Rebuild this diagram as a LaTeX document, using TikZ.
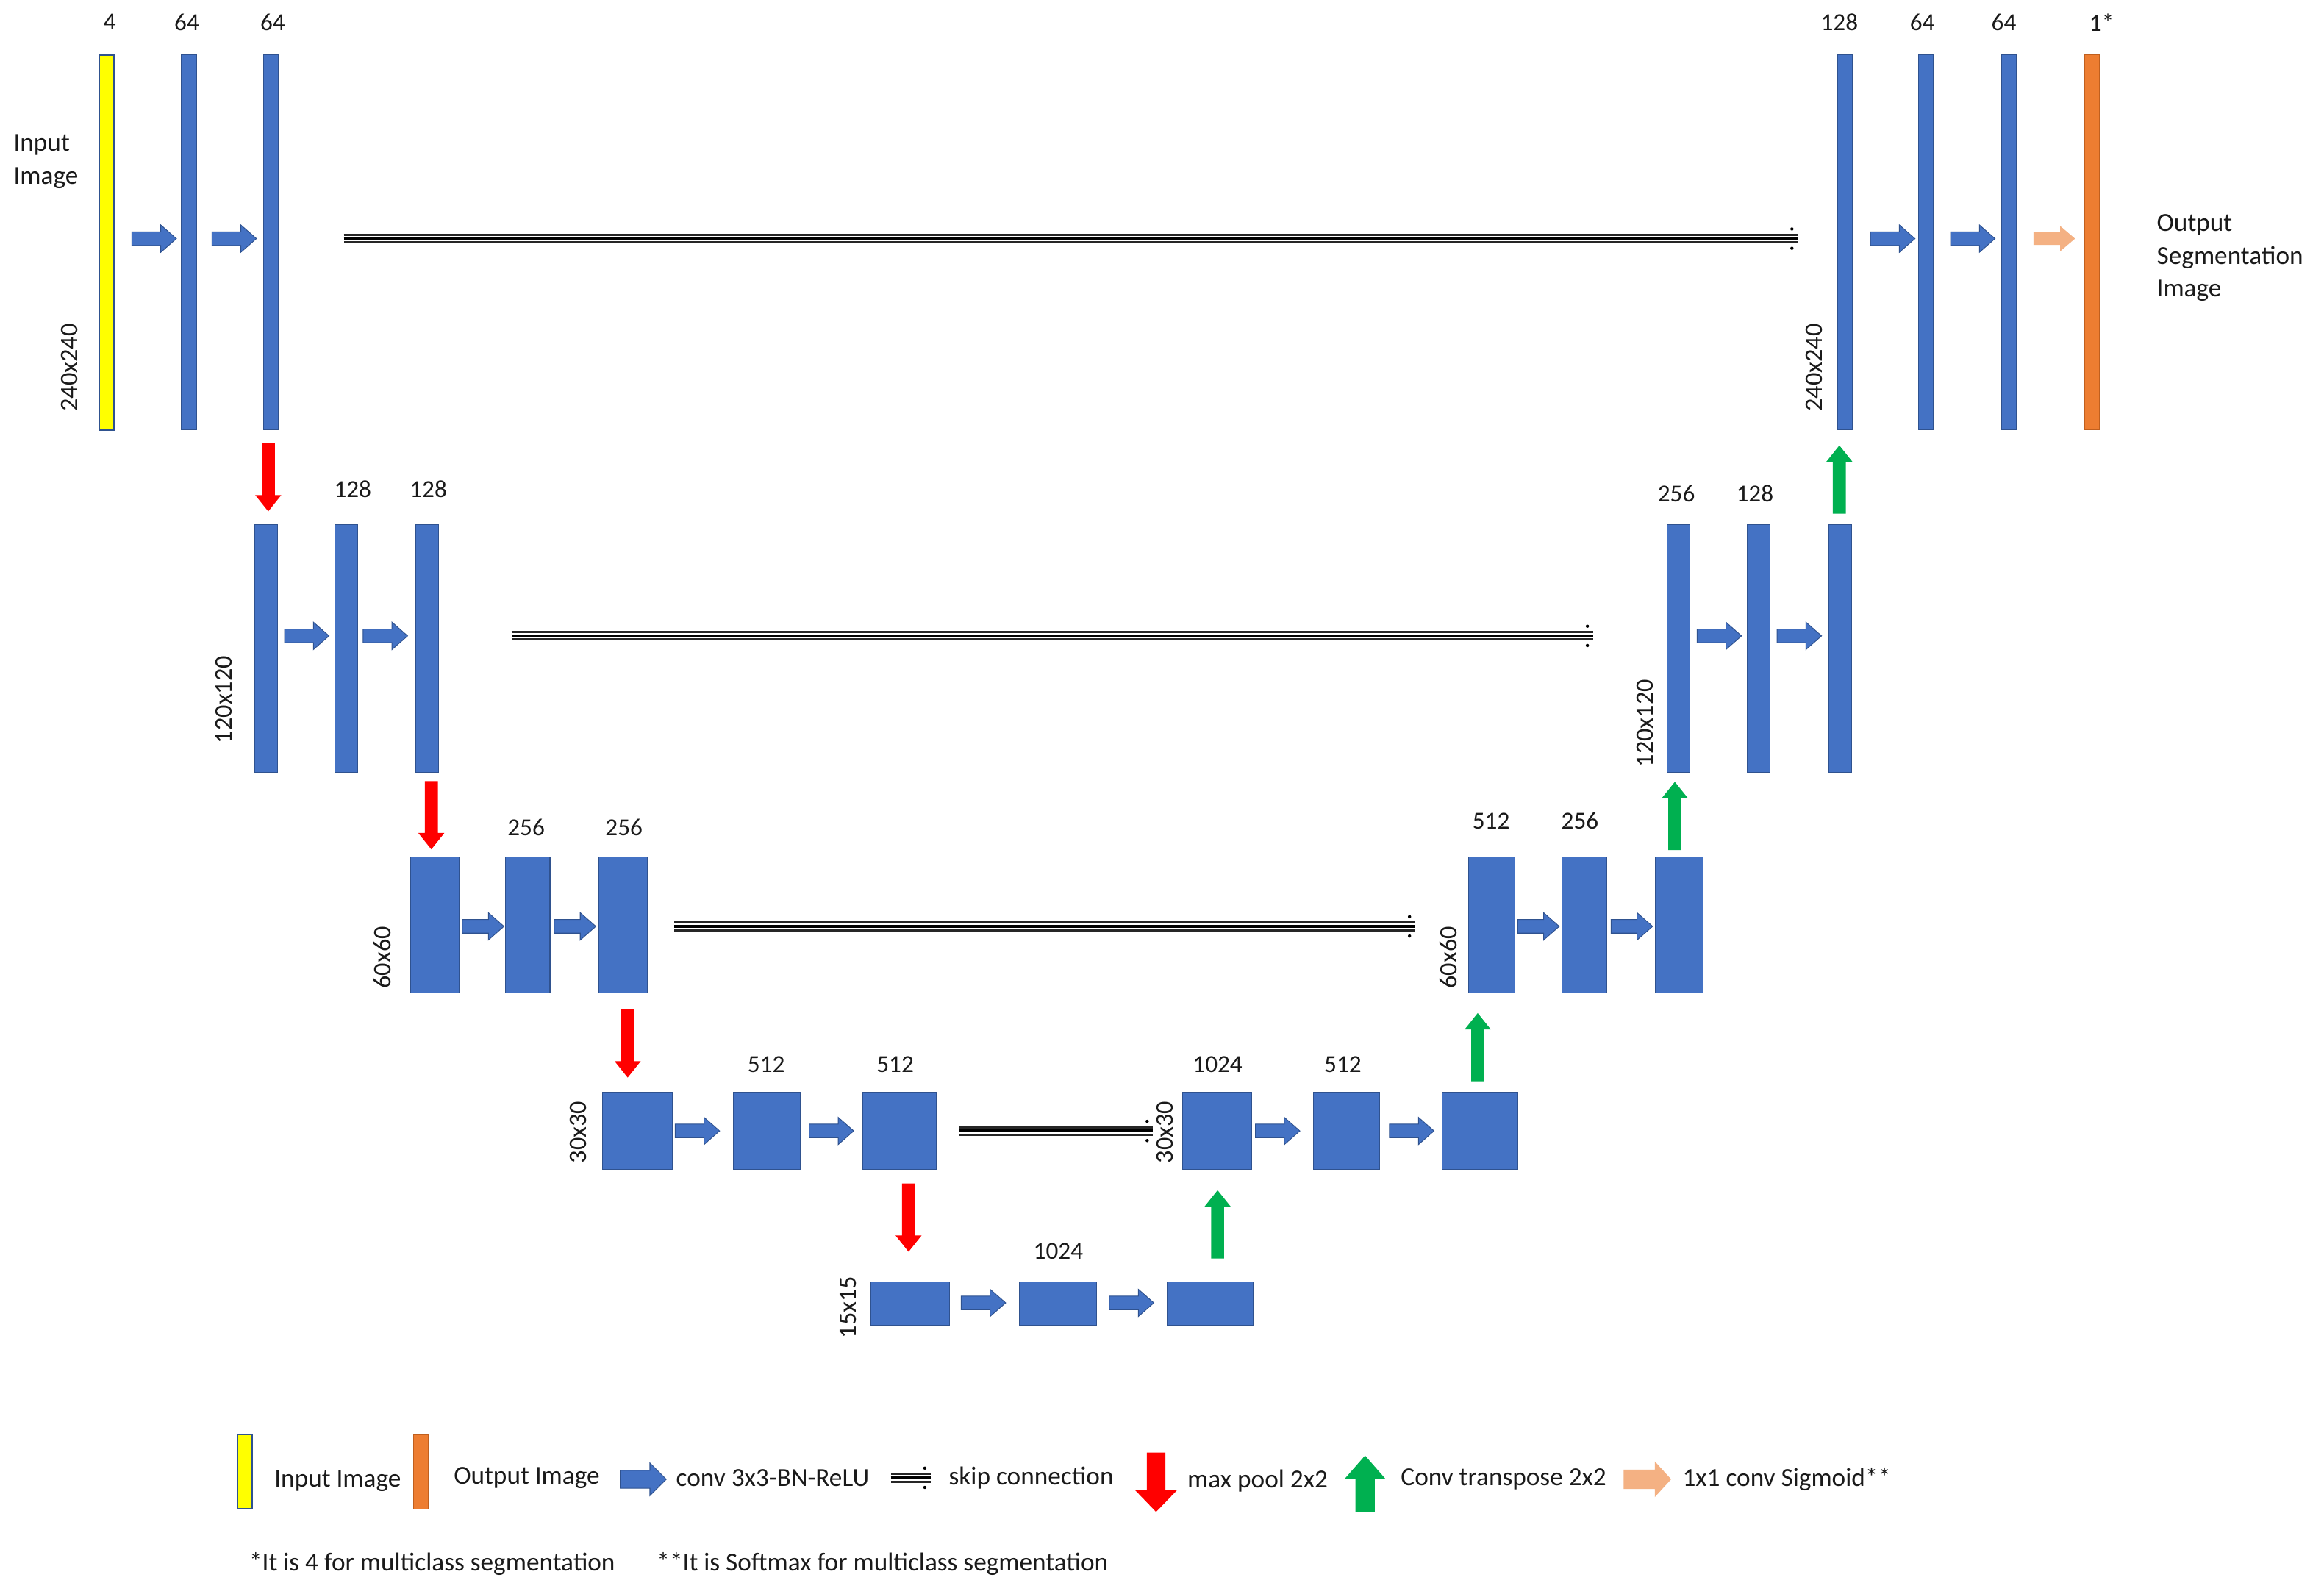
\documentclass[tikz,border=0pt]{standalone}
\usepackage{fontspec}
\setmainfont{Carlito}
\definecolor{cblue}{HTML}{4472C4}
\definecolor{cdark}{HTML}{2F528F}
\definecolor{cyel}{HTML}{FFFF00}
\definecolor{corange}{HTML}{ED7D31}
\definecolor{corangedark}{HTML}{C05F1E}
\definecolor{cred}{HTML}{FF0000}
\definecolor{cgreen}{HTML}{00B050}
\definecolor{cpeach}{HTML}{F4B183}
\definecolor{ctext}{HTML}{1A1A1A}
\tikzset{
  ba len/.store in=\balen, ba shaft/.store in=\bashaft,
  ba head/.store in=\bahead, ba hl/.store in=\bahl,
  ba len=30, ba shaft=9, ba head=18, ba hl=10,
  blockarr/.pic={\path[pic actions] ({-\balen/2},{-\bashaft/2}) -- ({\balen/2-\bahl},{-\bashaft/2}) -- ({\balen/2-\bahl},{-\bahead/2}) -- ({\balen/2},0) -- ({\balen/2-\bahl},{\bahead/2}) -- ({\balen/2-\bahl},{\bashaft/2}) -- ({-\balen/2},{\bashaft/2}) -- cycle;},
  convarr/.style={fill=cblue, draw=cdark, line width=0.5, ba len=30, ba shaft=9.2, ba head=18.4, ba hl=10.5},
  sigarr/.style={fill=cpeach, ba len=28, ba shaft=8.4, ba head=17, ba hl=10},
  poolarr/.style={fill=cred, rotate=-90, ba len=46, ba shaft=8.8, ba head=17.6, ba hl=11},
  uparr/.style={fill=cgreen, rotate=90, ba len=46, ba shaft=8.8, ba head=17.6, ba hl=11},
  fmap/.style={rectangle, draw=cdark, fill=cblue, line width=0.6, inner sep=0, minimum width=#1},
  inbar/.style={rectangle, draw=cdark, fill=cyel, line width=1, inner sep=0, minimum width=#1},
  outbar/.style={rectangle, draw=corangedark, fill=corange, line width=0.6, inner sep=0, minimum width=#1},
  ch/.style={text=ctext, inner sep=0, font=\fontsize{16.5}{20}\selectfont},
  dim/.style={text=ctext, inner sep=0, rotate=90, font=\fontsize{17}{20}\selectfont},
  txt/.style={text=ctext, inner sep=0, anchor=west, align=left, font=\fontsize{17.5}{22}\selectfont},
  skip/.style={draw=black, line width=2, preaction={draw=black!85, line width=1.5, double=white, double distance=3.6}},
  tipdot/.style={fill=black},
}
\begin{document}
\begin{tikzpicture}[x=1pt,y=-1pt]
\useasboundingbox[fill=white] (0,0) rectangle (1568,1075);

% ---------------- level 1 ----------------
\node[inbar=10, minimum height=253] (in1) at (72,163.5) {};
\node[fmap=10, minimum height=253] (e1a) at (127.5,163.5) {};
\node[fmap=10, minimum height=253] (e1b) at (183,163.5) {};
\node[fmap=10, minimum height=253] (d1a) at (1245,163.5) {};
\node[fmap=10, minimum height=253] (d1b) at (1299.5,163.5) {};
\node[fmap=10, minimum height=253] (d1c) at (1355.5,163.5) {};
\node[outbar=10, minimum height=253] (out1) at (1411.5,163.5) {};

\node[ch] (l1a) at (74,15) {4};
\node[ch] (l1b) at (126,15) {64};
\node[ch] (l1c) at (184,15) {64};
\node[ch] (l1d) at (1241,15) {128};
\node[ch] (l1e) at (1297,15) {64};
\node[ch] (l1f) at (1352,15) {64};
\node[ch] (l1g) at (1418,15) {1*};

\pic[convarr] (c1a) at (104,161) {blockarr};
\pic[convarr] (c1b) at (158,161) {blockarr};
\pic[convarr] (c1c) at (1277,161) {blockarr};
\pic[convarr] (c1d) at (1331,161) {blockarr};
\pic[sigarr] (c1e) at (1386,161) {blockarr};

\node[dim] (dl1) at (47,248) {240x240};
\node[dim] (dr1) at (1224,248) {240x240};
\node[txt] (inlbl) at (9,109) {Input\\Image};
\node[txt] (outlbl) at (1455,174) {Output\\Segmentation\\Image};

\coordinate (s1a) at (232,161);
\coordinate (s1b) at (1213,161);
\draw[skip] (s1a) -- (s1b);
\fill[tipdot] ([shift={(-4,-6.5)}]s1b) circle (1.1) ([shift={(-4,6.5)}]s1b) circle (1.1);

% ---------------- level 2 ----------------
\node[fmap=15.5, minimum height=167] (e2a) at (179.5,437.5) {};
\node[fmap=15.5, minimum height=167] (e2b) at (233.5,437.5) {};
\node[fmap=15.5, minimum height=167] (e2c) at (288,437.5) {};
\node[fmap=15.5, minimum height=167] (d2a) at (1132.5,437.5) {};
\node[fmap=15.5, minimum height=167] (d2b) at (1186.5,437.5) {};
\node[fmap=15.5, minimum height=167] (d2c) at (1241.5,437.5) {};

\node[ch] (l2a) at (238,330) {128};
\node[ch] (l2b) at (289,330) {128};
\node[ch] (l2c) at (1131,333) {256};
\node[ch] (l2d) at (1184,333) {128};

\pic[convarr] (c2a) at (207,429) {blockarr};
\pic[convarr] (c2b) at (260,429) {blockarr};
\pic[convarr] (c2c) at (1160,429) {blockarr};
\pic[convarr] (c2d) at (1214,429) {blockarr};

\node[dim] (dl2) at (151,472) {120x120};
\node[dim] (dr2) at (1110,488) {120x120};

\coordinate (s2a) at (345,429);
\coordinate (s2b) at (1075,429);
\draw[skip] (s2a) -- (s2b);
\fill[tipdot] ([shift={(-4,-6.5)}]s2b) circle (1.1) ([shift={(-4,6.5)}]s2b) circle (1.1);

% ---------------- level 3 ----------------
\node[fmap=33, minimum height=92] (e3a) at (293.5,624) {};
\node[fmap=30, minimum height=92] (e3b) at (356,624) {};
\node[fmap=33, minimum height=92] (e3c) at (420.5,624) {};
\node[fmap=31, minimum height=92] (d3a) at (1006.5,624) {};
\node[fmap=30, minimum height=92] (d3b) at (1069,624) {};
\node[fmap=32, minimum height=92] (d3c) at (1133,624) {};

\node[ch] (l3a) at (355,558) {256};
\node[ch] (l3b) at (421,558) {256};
\node[ch] (l3c) at (1006,554) {512};
\node[ch] (l3d) at (1066,554) {256};

\pic[convarr, ba len=28] (c3a) at (326,625) {blockarr};
\pic[convarr, ba len=28] (c3b) at (388,625) {blockarr};
\pic[convarr, ba len=28] (c3c) at (1038,625) {blockarr};
\pic[convarr, ba len=28] (c3d) at (1101,625) {blockarr};

\node[dim] (dl3) at (258,646) {60x60};
\node[dim] (dr3) at (977,646) {60x60};

\coordinate (s3a) at (455,625);
\coordinate (s3b) at (955,625);
\draw[skip] (s3a) -- (s3b);
\fill[tipdot] ([shift={(-4,-6.5)}]s3b) circle (1.1) ([shift={(-4,6.5)}]s3b) circle (1.1);

% ---------------- level 4 ----------------
\node[fmap=47, minimum height=52] (e4a) at (430,763) {};
\node[fmap=45, minimum height=52] (e4b) at (517.5,763) {};
\node[fmap=50, minimum height=52] (e4c) at (607,763) {};
\node[fmap=46.5, minimum height=52] (d4a) at (821,763) {};
\node[fmap=45, minimum height=52] (d4b) at (908.5,763) {};
\node[fmap=51, minimum height=52] (d4c) at (998.5,763) {};

\node[ch] (l4a) at (517,718) {512};
\node[ch] (l4b) at (604,718) {512};
\node[ch] (l4c) at (821.5,718) {1024};
\node[ch] (l4d) at (906,718) {512};

\pic[convarr] (c4a) at (470.5,763) {blockarr};
\pic[convarr] (c4b) at (561,763) {blockarr};
\pic[convarr] (c4c) at (862,763) {blockarr};
\pic[convarr] (c4d) at (952.5,763) {blockarr};

\node[dim] (dl4) at (390,764) {30x30};
\node[dim] (dr4) at (786,764) {30x30};

\coordinate (s4a) at (647,763);
\coordinate (s4b) at (778,763);
\draw[skip] (s4a) -- (s4b);
\fill[tipdot] ([shift={(-4,-6.5)}]s4b) circle (1.1) ([shift={(-4,6.5)}]s4b) circle (1.1);

% ---------------- level 5 ----------------
\node[fmap=53, minimum height=29] (b5a) at (614,879.5) {};
\node[fmap=52, minimum height=29] (b5b) at (714,879.5) {};
\node[fmap=58, minimum height=29] (b5c) at (816.5,879.5) {};
\node[ch] (l5a) at (714,844) {1024};
\pic[convarr] (c5a) at (663.5,879) {blockarr};
\pic[convarr] (c5b) at (763.5,879) {blockarr};
\node[dim] (dl5) at (572,882) {15x15};

% ---------------- pooling / up-conv ----------------
\pic[poolarr] (p1) at (181,322) {blockarr};
\pic[poolarr] (p2) at (291,550) {blockarr};
\pic[poolarr] (p3) at (423.5,704) {blockarr};
\pic[poolarr] (p4) at (613,821.5) {blockarr};
\pic[uparr] (u4) at (821.5,826) {blockarr};
\pic[uparr] (u3) at (997,706.5) {blockarr};
\pic[uparr] (u2) at (1130,550.5) {blockarr};
\pic[uparr] (u1) at (1241,323.5) {blockarr};

% ---------------- legend ----------------
\node[inbar=10, minimum height=50] (lgin) at (165,993) {};
\node[txt] (lgint) at (185,999) {Input Image};
\node[outbar=10, minimum height=50] (lgout) at (284,993) {};
\node[txt] (lgoutt) at (306,997) {Output Image};
\pic[convarr, ba len=31, ba shaft=12, ba head=22, ba hl=11] (lgc) at (434,998) {blockarr};
\node[txt] (lgct) at (456,997) {conv 3x3-BN-ReLU};
\coordinate (lgs1) at (601,997);
\coordinate (lgs2) at (628,997);
\draw[skip] (lgs1) -- (lgs2);
\fill[tipdot] ([shift={(-4,-6.5)}]lgs2) circle (1.1) ([shift={(-4,6.5)}]lgs2) circle (1.1);
\node[txt] (lgst) at (640,997) {skip connection};
\pic[poolarr, ba len=40, ba shaft=12.5, ba head=28, ba hl=14.5] (lgp) at (780,1000) {blockarr};
\node[txt] (lgpt) at (801,999) {max pool 2x2};
\pic[uparr, ba len=38, ba shaft=13, ba head=28, ba hl=16] (lgu) at (921,1001) {blockarr};
\node[txt] (lgut) at (945,998) {Conv transpose 2x2};
\pic[sigarr, ba len=32, ba shaft=13, ba head=24, ba hl=11] (lgsg) at (1111.5,998) {blockarr};
\node[txt] (lgsgt) at (1135,998) {1x1 conv Sigmoid**};

\node[txt] (fn1) at (168,1055) {*It is 4 for multiclass segmentation};
\node[txt] (fn2) at (443,1055) {**It is Softmax for multiclass segmentation};
\end{tikzpicture}
\end{document}
